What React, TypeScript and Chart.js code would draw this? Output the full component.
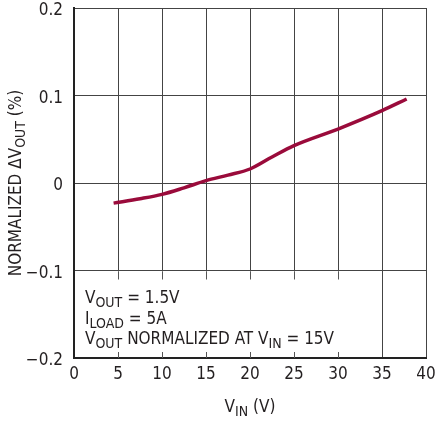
import React, { useEffect, useRef } from "react";
import { Chart, registerables } from "chart.js";

Chart.register(...registerables);

const vin: number[] = [4.5, 7.5, 10, 12.5, 15, 17.5, 20, 22.5, 25, 30, 35, 37.8];
const dVout: number[] = [-0.023, -0.018, -0.013, -0.0055, 0.0027, 0.009, 0.016, 0.0297, 0.0427, 0.0617, 0.0827, 0.096];
const xTicks: number[] = [0, 5, 10, 15, 20, 25, 30, 35, 40];
const yTicks: number[] = [-0.2, -0.1, 0, 0.1, 0.2];
const yTickLabels: string[] = ["\u22120.2", "\u22120.1", "0", "0.1", "0.2"];
const noteLines: { t: string; sub?: boolean }[][] = [
  [{ t: "V" }, { t: "OUT", sub: true }, { t: " = 1.5V" }],
  [{ t: "I" }, { t: "LOAD", sub: true }, { t: " = 5A" }],
  [{ t: "V" }, { t: "OUT", sub: true }, { t: " NORMALIZED AT V" }, { t: "IN", sub: true }, { t: " = 15V" }],
];
const xTitle: { t: string; sub?: boolean }[] = [{ t: "V" }, { t: "IN", sub: true }, { t: " (V)" }];
const yTitle: { t: string; sub?: boolean }[] = [{ t: "NORMALIZED \u0394V" }, { t: "OUT", sub: true }, { t: " (%)" }];

const FONT = '"Liberation Sans Narrow", "DejaVu Sans Condensed", "Roboto Condensed", sans-serif';
const TEXT = "#231f20";
const MAIN = 17;
const SUB = 14;

function richWidth(ctx: CanvasRenderingContext2D, parts: { t: string; sub?: boolean }[]) {
  let w = 0;
  for (const p of parts) {
    ctx.font = `${p.sub ? SUB : MAIN}px ${FONT}`;
    w += ctx.measureText(p.t).width;
  }
  return w;
}

function drawRich(ctx: CanvasRenderingContext2D, parts: { t: string; sub?: boolean }[], x: number, y: number) {
  let cx = x;
  ctx.textBaseline = "alphabetic";
  ctx.textAlign = "left";
  for (const p of parts) {
    ctx.font = `${p.sub ? SUB : MAIN}px ${FONT}`;
    ctx.fillText(p.t, cx, p.sub ? y + 4 : y);
    cx += ctx.measureText(p.t).width;
  }
}

const overlay = {
  id: "overlay",
  beforeDatasetsDraw(chart: any) {
    const ctx: CanvasRenderingContext2D = chart.ctx;
    const xs = chart.scales.x;
    const ys = chart.scales.y;
    const area = chart.chartArea;
    const x0 = area.left + 1.5;
    const x1 = xs.getPixelForValue(35) - 1;
    const y0 = ys.getPixelForValue(-0.1) + 1;
    const y1 = area.bottom - 1.5;
    ctx.save();
    ctx.fillStyle = "#ffffff";
    ctx.fillRect(x0, y0, x1 - x0, y1 - y0);
    ctx.strokeStyle = "#555";
    ctx.lineWidth = 1;
    for (const v of [5, 10, 15, 20, 25, 30]) {
      const px = Math.round(xs.getPixelForValue(v)) + 0.5;
      ctx.beginPath();
      ctx.moveTo(px, y0);
      ctx.lineTo(px, y0 + 8);
      ctx.moveTo(px, area.bottom);
      ctx.lineTo(px, area.bottom - 6);
      ctx.stroke();
    }
    ctx.fillStyle = TEXT;
    noteLines.forEach((line, i) => drawRich(ctx, line, 85, 303 + i * 20.5));
    ctx.restore();
  },
  afterDraw(chart: any) {
    const ctx: CanvasRenderingContext2D = chart.ctx;
    const area = chart.chartArea;
    ctx.save();
    ctx.fillStyle = TEXT;
    const xw = richWidth(ctx, xTitle);
    drawRich(ctx, xTitle, (area.left + area.right) / 2 - xw / 2, 412);
    const yw = richWidth(ctx, yTitle);
    ctx.translate(21, (area.top + area.bottom) / 2);
    ctx.rotate(-Math.PI / 2);
    drawRich(ctx, yTitle, -yw / 2, 0);
    ctx.restore();
  },
};

export default function App() {
  const ref = useRef<HTMLCanvasElement | null>(null);
  useEffect(() => {
    if (!ref.current) return;
    const chart = new Chart(ref.current, {
      type: "line",
      data: {
        datasets: [
          {
            data: vin.map((x, i) => ({ x, y: dVout[i] })),
            borderColor: "#9a0b3b",
            borderWidth: 3.5,
            pointRadius: 0,
            cubicInterpolationMode: "monotone",
            fill: false,
          },
        ],
      },
      options: {
        animation: false,
        responsive: true,
        maintainAspectRatio: false,
        layout: { padding: { left: 0, right: 9, top: 8, bottom: 0 } },
        plugins: { legend: { display: false }, tooltip: { enabled: false } },
        scales: {
          x: {
            type: "linear",
            min: 0,
            max: 40,
            afterBuildTicks: (s: any) => {
              s.ticks = xTicks.map((v) => ({ value: v }));
            },
            afterFit: (s: any) => {
              s.height = 63;
              s.paddingLeft = 0;
              s.paddingRight = 0;
              s.paddingTop = 0;
              s.paddingBottom = 0;
            },
            grid: { color: "#444", lineWidth: 1, drawTicks: false },
            border: { color: "#222", width: 2 },
            ticks: {
              color: TEXT,
              font: { family: FONT, size: 17 },
              padding: 6,
              maxRotation: 0,
              callback: (v: any) => String(v),
            },
          },
          y: {
            type: "linear",
            min: -0.2,
            max: 0.2,
            afterBuildTicks: (s: any) => {
              s.ticks = yTicks.map((v) => ({ value: v }));
            },
            afterFit: (s: any) => {
              s.width = 74;
              s.paddingLeft = 0;
              s.paddingRight = 0;
              s.paddingTop = 0;
              s.paddingBottom = 0;
            },
            grid: { color: "#444", lineWidth: 1, drawTicks: false },
            border: { color: "#222", width: 2 },
            ticks: {
              color: TEXT,
              font: { family: FONT, size: 17 },
              padding: 11,
              labelOffset: 3,
              callback: (v: any) => {
                const i = yTicks.findIndex((t) => Math.abs(t - v) < 1e-9);
                return i >= 0 ? yTickLabels[i] : "";
              },
            },
          },
        },
      },
      plugins: [overlay],
    });
    return () => chart.destroy();
  }, []);
  return (
    <div style={{ position: "fixed", left: 0, top: 0, width: 435, height: 421, background: "#fff" }}>
      <canvas ref={ref} />
    </div>
  );
}
